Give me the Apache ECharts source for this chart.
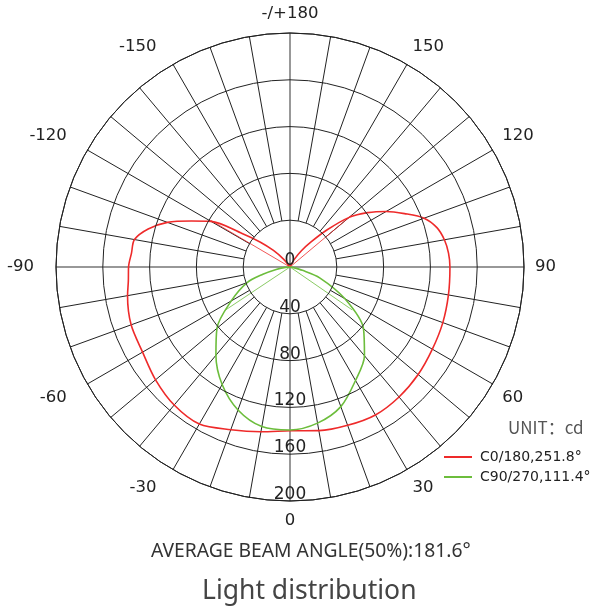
<!DOCTYPE html>
<html>
<head>
<meta charset="utf-8">
<script src="https://cdn.jsdelivr.net/npm/echarts@6/dist/echarts.min.js"></script>
<style>
html,body{margin:0;padding:0;background:#fff;}
#chart{width:593px;height:612px;}
</style>
</head>
<body>
<div id="chart"></div>
<script>
// Angles in degrees: 0 = downward, positive toward the right side (counter-clockwise)
const redName = 'C0/180,251.8°';
const greenName = 'C90/270,111.4°';
const redAngles = [-145,-140,-135,-130,-125,-120,-115,-110,-105,-100,-95,-90,-85,-80,-70,-60,-50,-40,-30,-20,-10,0,10,20,30,40,50,60,70,80,90,95,100,105,110,115,120,125,130,135,140,145,150,155];
const redValues = [0,9,20,33,50,78,93,111.5,125.5,135,136,138,138.7,141,144.5,145.5,150,154,155,148,143,140,142,144,146,145,143,140.5,139,137.5,136.7,136,134,130,122,108,95,81,66,45,28,17,8,0];
const greenAngles = [-90,-85,-80,-75,-70,-60,-50,-40,-30,-20,-10,0,10,20,30,40,50,60,70,75,80,85];
const greenValues = [0,4,12,24,39,58,81.5,98.5,116,130,138.5,139.3,135.5,127,112,99,82,54,27,11,3,0];
const redChordAngles = [-120.5, 130];
const redChordValues = [78.7, 69.5];
const greenChordAngles = [-56.3, 55.4];
const greenChordValues = [66.2, 64.6];
const radiusTicks = [0, 40, 80, 120, 160, 200];
const angleLabelStep = 30;
const unitText = 'UNIT：cd';
const beamText = 'AVERAGE BEAM ANGLE(50%):181.6°';
const titleText = 'Light distribution';

const toAxis = a => (a < 0 ? a + 360 : a);
const pts = (angles, values) => angles.map((a, i) => [values[i], toAxis(a)]);
const chordSeries = (angles, values, color) => angles.map((a, i) => ({
  type: 'line', coordinateSystem: 'polar', polarIndex: 0, symbol: 'none', silent: true,
  data: [[0, toAxis(a)], [values[i], toAxis(a)]],
  lineStyle: {color: color, width: 0.8}, z: 3
}));

const C = [290, 267];
const R = 234;
const innerR = R * radiusTicks[1] / radiusTicks[radiusTicks.length - 1];
const font = 'DejaVu Sans';

const chart = echarts.init(document.getElementById('chart'));
const spokeColors = ['rgba(0,0,0,0)'].concat(new Array(8).fill('#222'));

chart.setOption({
  animation: false,
  backgroundColor: '#fff',
  title: [
    {text: unitText, left: 503, top: 414, textStyle: {fontSize: 17, color: '#555', fontWeight: 'normal', fontFamily: 'Noto Sans CJK SC'}},
    {text: beamText, left: 146, top: 537, textStyle: {fontSize: 19.3, color: '#333', fontWeight: 'normal', fontFamily: 'Noto Sans'}},
    {text: titleText, left: 197, top: 573, textStyle: {fontSize: 26.5, color: '#444', fontWeight: 'normal', fontFamily: 'Noto Sans'}}
  ],
  legend: {
    orient: 'vertical', left: 439, top: 445, itemGap: 6,
    itemWidth: 28, itemHeight: 2, icon: 'rect',
    data: [redName, greenName],
    textStyle: {fontSize: 14, color: '#222', fontFamily: font, padding: [0, 0, 0, 3]}
  },
  polar: [
    {center: C, radius: [0, R]},
    {center: C, radius: [innerR, R]}
  ],
  angleAxis: [
    {polarIndex: 0, type: 'value', min: 0, max: 360, interval: 90, startAngle: 270, clockwise: false,
     axisLine: {show: true, lineStyle: {color: '#222', width: 1}},
     axisTick: {show: false}, axisLabel: {show: false},
     splitLine: {show: true, lineStyle: {color: '#777', width: 1.5}}},
    {polarIndex: 1, type: 'value', min: 0, max: 360, interval: 10, startAngle: 270, clockwise: false,
     axisLine: {show: false}, axisTick: {show: false},
     axisLabel: {show: true, margin: 11, fontSize: 16.5, color: '#222', fontFamily: font,
       formatter: v => {
         if (v % angleLabelStep !== 0 || v === 360) return '';
         if (v === 180) return '-/+180';
         if (v > 180) return '{neg|' + (v - 360) + '}';
         return String(v);
       },
       rich: {neg: {fontSize: 16.5, color: '#222', fontFamily: font, padding: [0, 11, 0, 0]}}},
     splitLine: {show: true, lineStyle: {color: spokeColors, width: 1}}}
  ],
  radiusAxis: [
    {polarIndex: 0, type: 'value', min: radiusTicks[0], max: radiusTicks[radiusTicks.length - 1], interval: radiusTicks[1] - radiusTicks[0],
     axisLine: {show: false}, axisTick: {show: false},
     axisLabel: {show: true, margin: 0, align: 'center', verticalAlign: 'bottom', lineHeight: 13, rotate: 0, fontSize: 17, color: '#222', fontFamily: font},
     splitLine: {show: true, lineStyle: {color: '#222', width: 1}}, z: 5},
    {polarIndex: 1, type: 'value', min: 0, max: 1, show: false}
  ],
  series: [
    {name: redName, type: 'line', coordinateSystem: 'polar', polarIndex: 0, symbol: 'none', smooth: 0.3,
     data: pts(redAngles, redValues), lineStyle: {color: '#ee2a2a', width: 1.6}, itemStyle: {color: '#ee2a2a'}, z: 4},
    {name: greenName, type: 'line', coordinateSystem: 'polar', polarIndex: 0, symbol: 'none', smooth: 0.3,
     data: pts(greenAngles, greenValues), lineStyle: {color: '#6cbd3c', width: 1.6}, itemStyle: {color: '#6cbd3c'}, z: 4}
  ].concat(chordSeries(redChordAngles, redChordValues, '#ee2a2a'))
   .concat(chordSeries(greenChordAngles, greenChordValues, '#6cbd3c'))
});
</script>
</body>
</html>
